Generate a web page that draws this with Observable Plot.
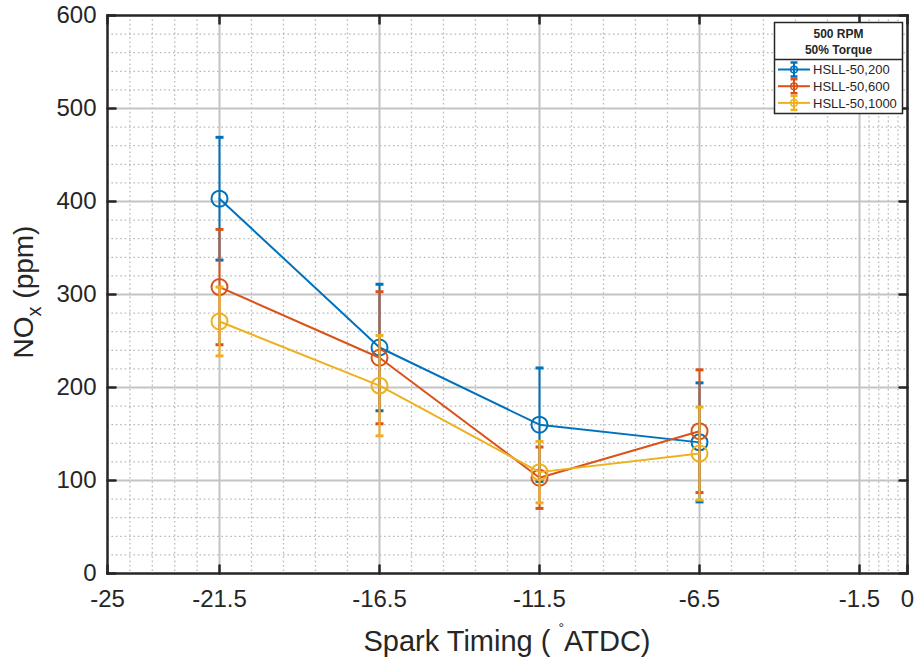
<!DOCTYPE html>
<html><head><meta charset="utf-8">
<script src="https://cdn.jsdelivr.net/npm/d3@7"></script>
<script src="https://cdn.jsdelivr.net/npm/@observablehq/plot@0.6"></script>
<style>body{margin:0;background:#fff;} #chart svg{display:block;}</style>
</head><body><div id="chart"></div>
<script>
// ---- data ----
const sparkTiming = [-21.5, -16.5, -11.5, -6.5];
const seriesNames = ["HSLL-50,200", "HSLL-50,600", "HSLL-50,1000"];
const nox200  = [403, 243, 160, 141];
const err200  = [66, 68, 61, 64];
const nox600  = [308, 232, 103, 153];
const err600  = [62, 71, 33, 66];
const nox1000 = [271, 202, 109, 129];
const err1000 = [37, 54, 33, 50];
const xTicks = [-25, -21.5, -16.5, -11.5, -6.5, -1.5, 0];
const yTicks = [0, 100, 200, 300, 400, 500, 600];
const legendTitle = ["500 RPM", "50% Torque"];
const xLabel = ["Spark Timing ( ", "°", "ATDC)"];
const yLabel = ["NO", "x", " (ppm)"];

// ---- build table ----
const colors = ["#0072BD", "#D95319", "#EDB120"];
const values = [nox200, nox600, nox1000];
const errors = [err200, err600, err1000];
const rows = [];
values.forEach((vals, s) => vals.forEach((v, i) => rows.push({series: seriesNames[s], x: sparkTiming[i], y: v, e: errors[s][i]})));

function minorOf(ticks) {
  const out = [];
  for (let i = 0; i < ticks.length - 1; i++) {
    const a = ticks[i], b = ticks[i + 1];
    for (let k = 1; k < 5; k++) out.push(a + (b - a) * k / 5);
  }
  return out;
}
const minorX = minorOf(xTicks);
const minorY = minorOf(yTicks);

const capSymbol = {draw(ctx, size) { const w = Math.sqrt(size / Math.PI); ctx.moveTo(-w, 0); ctx.lineTo(w, 0); }};
const tickShape = {draw(ctx, l) { ctx.moveTo(0, 0); ctx.lineTo(0, -l); }};
const fmt = d => String(d);
const ink = "#262626";
const font = "'Liberation Sans', Arial, Helvetica, sans-serif";

const seriesMarks = seriesNames.flatMap((name, s) => {
  const d = rows.filter(r => r.series === name);
  const c = colors[s];
  return [
    Plot.line(d, {x: "x", y: "y", stroke: c, strokeWidth: 2}),
    Plot.ruleX(d, {x: "x", y1: r => r.y - r.e, y2: r => r.y + r.e, stroke: c, strokeWidth: 2}),
    Plot.dot(d, {x: "x", y: r => r.y + r.e, symbol: capSymbol, r: 4, stroke: c, strokeWidth: 3}),
    Plot.dot(d, {x: "x", y: r => r.y - r.e, symbol: capSymbol, r: 4, stroke: c, strokeWidth: 3}),
    Plot.dot(d, {x: "x", y: "y", r: 8, stroke: c, strokeWidth: 2, fill: "none"})
  ];
});

const chart = Plot.plot({
  width: 914, height: 659,
  marginLeft: 107, marginRight: 7, marginTop: 15, marginBottom: 86,
  style: {background: "white", fontFamily: font, color: ink},
  x: {domain: [-25, 0], label: null, axis: null},
  y: {domain: [0, 600], label: null, axis: null},
  marks: [
    Plot.ruleX(minorX, {stroke: "#b8b8b8", strokeWidth: 1.3, strokeDasharray: "1.6,2.8"}),
    Plot.ruleY(minorY, {stroke: "#b8b8b8", strokeWidth: 1.3, strokeDasharray: "1.6,2.8"}),
    Plot.ruleX(xTicks.slice(1, -1), {stroke: "#c4c4c4", strokeWidth: 2}),
    Plot.ruleY(yTicks.slice(1, -1), {stroke: "#c4c4c4", strokeWidth: 2}),
    ...seriesMarks,
    Plot.vector(xTicks, {x: d => d, y: () => 0, length: 8, rotate: 0, anchor: "start", shape: tickShape, stroke: ink, strokeWidth: 2.5}),
    Plot.vector(xTicks, {x: d => d, y: () => 600, length: 8, rotate: 180, anchor: "start", shape: tickShape, stroke: ink, strokeWidth: 2.5}),
    Plot.vector(yTicks, {y: d => d, x: () => -25, length: 8, rotate: 90, anchor: "start", shape: tickShape, stroke: ink, strokeWidth: 2.5}),
    Plot.vector(yTicks, {y: d => d, x: () => 0, length: 8, rotate: -90, anchor: "start", shape: tickShape, stroke: ink, strokeWidth: 2.5}),
    Plot.frame({stroke: ink, strokeWidth: 2.5}),
    Plot.axisX({ticks: xTicks, tickSize: 0, tickPadding: 16, tickFormat: fmt, fontSize: 24, fill: ink}),
    Plot.axisY({ticks: yTicks, tickSize: 0, tickPadding: 11, tickFormat: fmt, fontSize: 24, fill: ink})
  ]
});
document.getElementById("chart").appendChild(chart);

// ---- labels with super/subscripts ----
const svg = d3.select(chart);
const xl = svg.append("text").attr("x", 507).attr("y", 651).attr("text-anchor", "middle")
  .attr("font-family", font).attr("font-size", 29).attr("fill", ink);
xl.append("tspan").text(xLabel[0]);
xl.append("tspan").attr("dy", -18).attr("font-size", 14).text(xLabel[1]);
xl.append("tspan").attr("dy", 18).text(xLabel[2]);

const yl = svg.append("text").attr("transform", "translate(33,292) rotate(-90)").attr("text-anchor", "middle")
  .attr("font-family", font).attr("font-size", 28).attr("fill", ink);
yl.append("tspan").text(yLabel[0]);
yl.append("tspan").attr("dy", 8).attr("font-size", 20).text(yLabel[1]);
yl.append("tspan").attr("dy", -8).text(yLabel[2]);

// ---- legend ----
const lg = svg.append("g").attr("font-family", font).attr("text-anchor", "start");
lg.append("rect").attr("x", 774.5).attr("y", 22.5).attr("width", 128).attr("height", 91)
  .attr("fill", "white").attr("stroke", ink).attr("stroke-width", 1.5);
lg.append("line").attr("x1", 774.5).attr("x2", 902.5).attr("y1", 59.5).attr("y2", 59.5).attr("stroke", ink).attr("stroke-width", 1.5);
legendTitle.forEach((t, i) => lg.append("text").attr("x", 838.5).attr("y", 37.5 + i * 16).attr("text-anchor", "middle")
  .attr("font-size", 12).attr("font-weight", "bold").attr("fill", ink).text(t));
seriesNames.forEach((name, s) => {
  const cy = 69.5 + s * 16.7, c = colors[s];
  const g = lg.append("g").attr("stroke", c).attr("fill", "none");
  g.append("line").attr("x1", 778).attr("x2", 810).attr("y1", cy).attr("y2", cy).attr("stroke-width", 2);
  g.append("line").attr("x1", 794).attr("x2", 794).attr("y1", cy - 7).attr("y2", cy + 7).attr("stroke-width", 2);
  g.append("line").attr("x1", 790.5).attr("x2", 797.5).attr("y1", cy - 7).attr("y2", cy - 7).attr("stroke-width", 2.5);
  g.append("line").attr("x1", 790.5).attr("x2", 797.5).attr("y1", cy + 7).attr("y2", cy + 7).attr("stroke-width", 2.5);
  g.append("circle").attr("cx", 794).attr("cy", cy).attr("r", 3.3).attr("stroke-width", 1.5);
  lg.append("text").attr("x", 813).attr("y", cy + 4.7).attr("text-anchor", "start")
    .attr("font-size", 13).attr("fill", ink).text(name);
});
</script>
</body></html>
